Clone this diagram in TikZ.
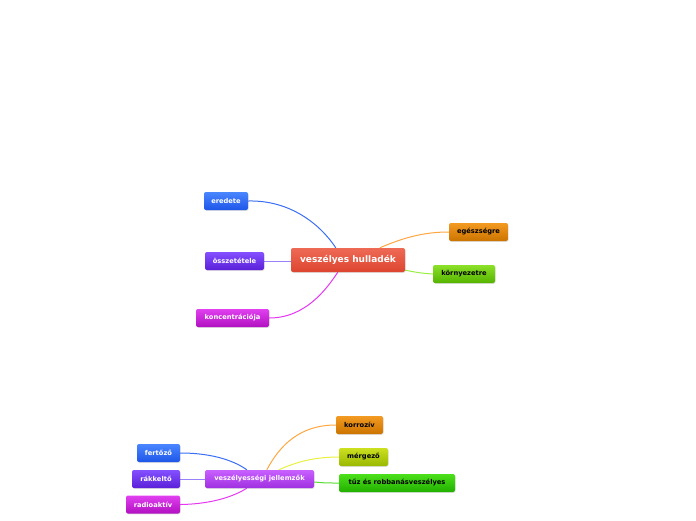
\documentclass[tikz,border=0pt]{standalone}
\usepackage{fontspec}
\setmainfont{DejaVu Sans}
\usetikzlibrary{calc,backgrounds,shadows}
\definecolor{redA}{HTML}{EE6A55}\definecolor{redB}{HTML}{DD4530}
\definecolor{blueA}{HTML}{4A86FF}\definecolor{blueB}{HTML}{1E56E8}
\definecolor{purA}{HTML}{8450FF}\definecolor{purB}{HTML}{5A20D8}
\definecolor{magA}{HTML}{E040F0}\definecolor{magB}{HTML}{B010C0}
\definecolor{orA}{HTML}{F29A22}\definecolor{orB}{HTML}{CC7400}
\definecolor{grA}{HTML}{8CE028}\definecolor{grB}{HTML}{55B400}
\definecolor{ygA}{HTML}{CCE020}\definecolor{ygB}{HTML}{99B800}
\definecolor{tgA}{HTML}{4CE01A}\definecolor{tgB}{HTML}{22B000}
\definecolor{viA}{HTML}{C860FF}\definecolor{viB}{HTML}{A030E0}
\definecolor{lblue}{HTML}{3A6EF5}\definecolor{lpur}{HTML}{9A80FA}
\definecolor{lmag}{HTML}{E438F2}\definecolor{lor}{HTML}{FFA640}
\definecolor{lgr}{HTML}{99EE44}\definecolor{lyg}{HTML}{E8F040}
\definecolor{ltg}{HTML}{55DD33}
\tikzset{
  box/.style={rounded corners=2pt, minimum height=18pt, inner xsep=7pt, inner ysep=0pt,
    font=\fontsize{6.7}{7}\selectfont\bfseries, text=white,
    drop shadow={shadow xshift=0.6pt, shadow yshift=-0.8pt, opacity=0.25}},
  dark/.style={text=black},
  topic/.style={box, minimum height=24pt, inner xsep=9pt, font=\fontsize{9}{10}\selectfont\bfseries},
  cred/.style={top color=redA, bottom color=redB},
  cblue/.style={top color=blueA, bottom color=blueB},
  cpur/.style={top color=purA, bottom color=purB},
  cmag/.style={top color=magA, bottom color=magB},
  cor/.style={top color=orA, bottom color=orB, dark},
  cgr/.style={top color=grA, bottom color=grB, dark},
  cyg/.style={top color=ygA, bottom color=ygB, dark},
  ctg/.style={top color=tgA, bottom color=tgB, dark},
  cvi/.style={top color=viA, bottom color=viB},
  link/.style={line width=1pt}
}
\begin{document}
\begin{tikzpicture}[x=1pt,y=-1pt]
\useasboundingbox (0,0) rectangle (696,520);
% main topic 1
\node[topic,cred, minimum width=114pt] (vh) at (348,260) {veszélyes hulladék};
\node[box,cblue, minimum width=44pt] (ered) at (226,201) {eredete};
\node[box,cpur, minimum width=59pt] (ossz) at (234.5,261) {összetétele};
\node[box,cmag, minimum width=73pt] (konc) at (232.5,318) {koncentrációja};
\node[box,cor, minimum width=59pt] (egesz) at (478.5,232) {egészségre};
\node[box,cgr, minimum width=62pt] (korny) at (464,274) {környezetre};
% main topic 2
\node[box,cvi, minimum width=109pt] (vj) at (259.5,479) {veszélyességi jellemzők};
\node[box,cblue, minimum width=43pt] (fert) at (158.5,453) {fertőző};
\node[box,cpur, minimum width=48pt] (rak) at (156,479) {rákkeltő};
\node[box,cmag, minimum width=54pt] (rad) at (153,504.5) {radioaktív};
\node[box,cor, minimum width=47pt] (korr) at (359.5,425) {korrozív};
\node[box,cyg, minimum width=49pt] (merg) at (363.5,457) {mérgező};
\node[box,ctg, minimum width=116pt] (tuz) at (397,483) {tűz és robbanásveszélyes};
\begin{scope}[on background layer]
\draw[link,lblue] (ered.east) .. controls (290,200) and (320,224) .. ($(vh.north west)+(45,0)$);
\draw[link,lpur] (ossz.east) -- (ossz.east -| vh.west);
\draw[link,lmag] (konc.east) .. controls (305,318) and (326,290) .. ($(vh.south west)+(47,0)$);
\draw[link,lor] ($(vh.north west)+(89,0)$) .. controls (405,237) and (425,232) .. (egesz.west);
\draw[link,lgr] ($(vh.south east)+(0,-2)$) .. controls (420,273) .. (korny.west);
\draw[link,lblue] (fert.east) .. controls (215,453) and (236,462) .. ($(vj.north west)+(42,0)$);
\draw[link,lpur] (rak.east) -- (vj.west);
\draw[link,lmag] (rad.east) .. controls (215,504) and (236,495) .. ($(vj.south west)+(42,0)$);
\draw[link,lor] ($(vj.north west)+(62,0)$) .. controls (280,445) and (300,425) .. (korr.west);
\draw[link,lyg] ($(vj.north west)+(74,0)$) .. controls (292,464) and (310,457) .. (merg.west);
\draw[link,ltg] ($(vj.east)+(0,3)$) .. controls (325,483) .. (tuz.west);
\end{scope}
\end{tikzpicture}
\end{document}
